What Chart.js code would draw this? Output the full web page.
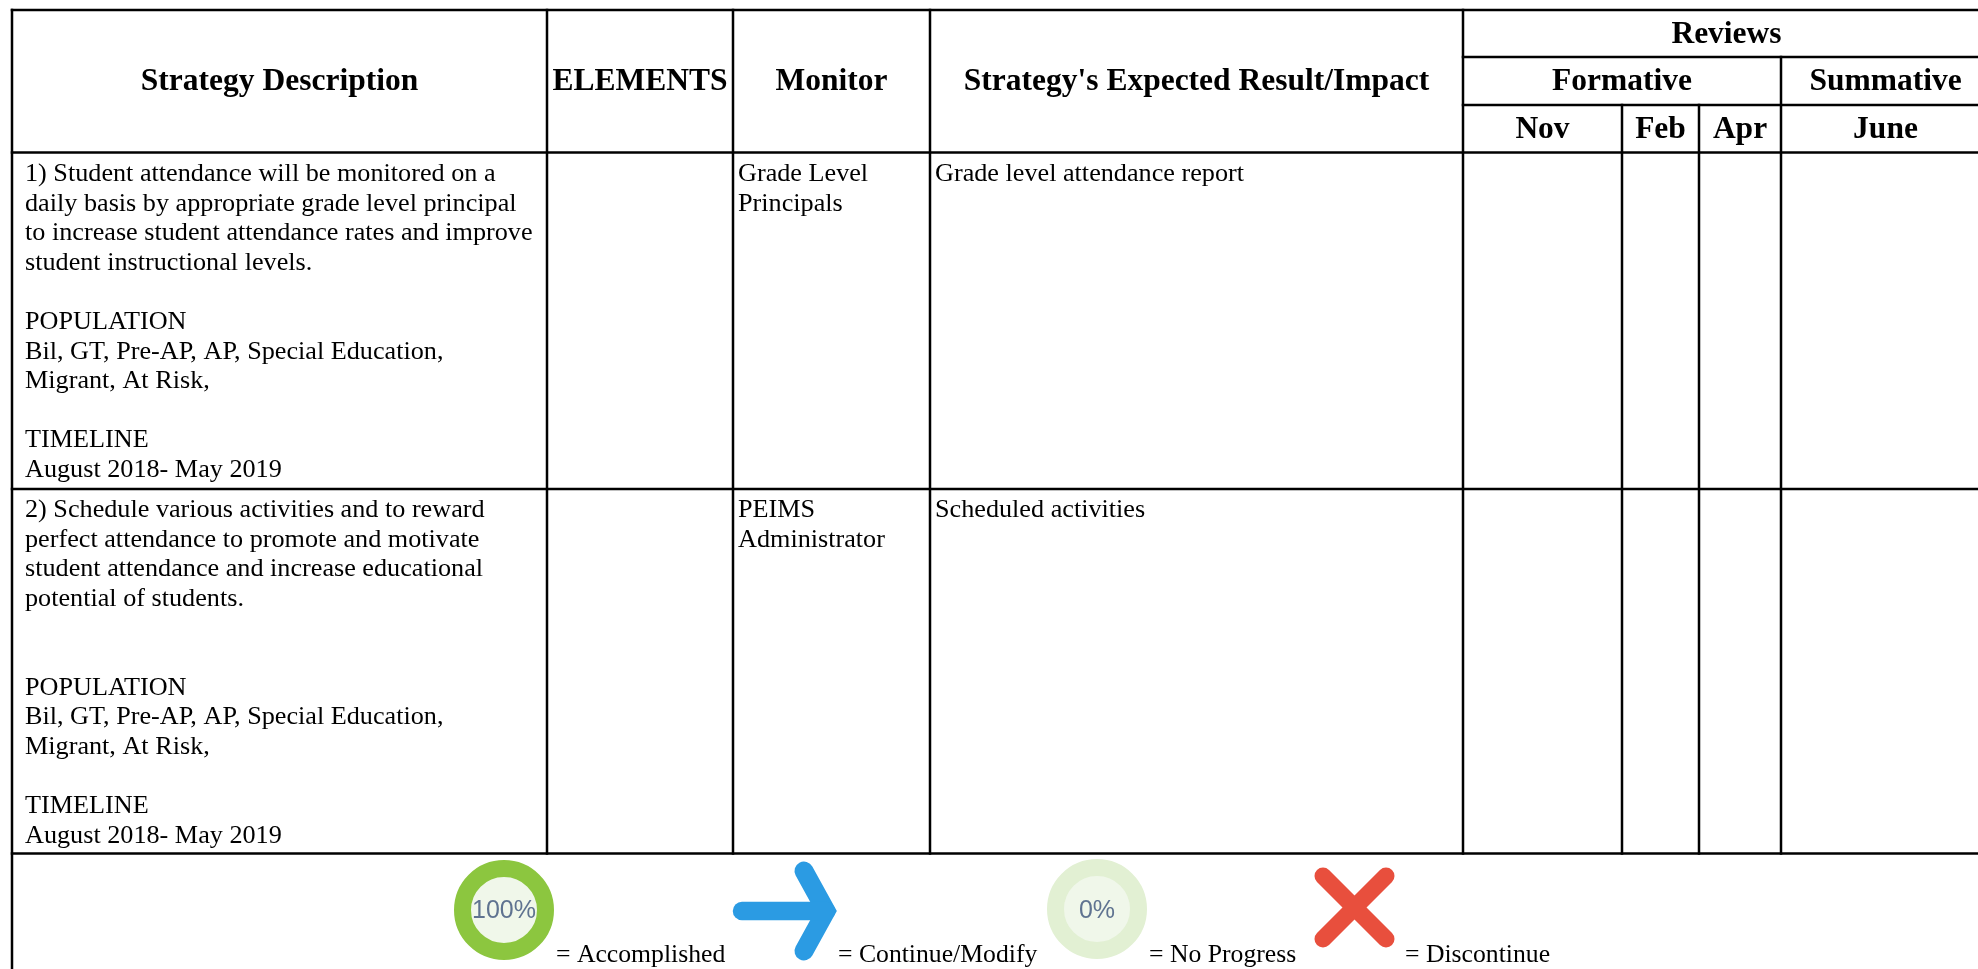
<!DOCTYPE html>
<html lang="en">

<head>
    <meta charset="UTF-8">
    <title>Strategy table</title>
    <style>
        html, body { margin: 0; padding: 0; background: #fff; overflow: hidden; }
        canvas { display: block; }
    </style>
</head>

<body>
    <canvas id="myChart" width="1978" height="969"></canvas>
    <script src="https://cdn.jsdelivr.net/npm/chart.js@4"></script>
    <script>
        // table geometry, in axis units
        const colEdges = [12, 547, 733, 930, 1463, 1622, 1699, 1781, 1990];
        const rowEdges = [10, 57, 105, 152.5, 489, 853.5, 975];

        // header labels
        const headMain = ['Strategy Description', 'ELEMENTS', 'Monitor', "Strategy's Expected Result/Impact"];
        const headTop = 'Reviews';
        const headMid = ['Formative', 'Summative'];
        const headMonths = ['Nov', 'Feb', 'Apr', 'June'];

        // body cells, one entry per text line
        const row1Desc = ['1) Student attendance will be monitored on a', 'daily basis by appropriate grade level principal',
            'to increase student attendance rates and improve', 'student instructional levels.', '', 'POPULATION',
            'Bil, GT, Pre-AP, AP, Special Education,', 'Migrant, At Risk,', '', 'TIMELINE', 'August 2018- May 2019'];
        const row1Monitor = ['Grade Level', 'Principals'];
        const row1Impact = ['Grade level attendance report'];
        const row2Desc = ['2) Schedule various activities and to reward', 'perfect attendance to promote and motivate',
            'student attendance and increase educational', 'potential of students.', '', '', 'POPULATION',
            'Bil, GT, Pre-AP, AP, Special Education,', 'Migrant, At Risk,', '', 'TIMELINE', 'August 2018- May 2019'];
        const row2Monitor = ['PEIMS', 'Administrator'];
        const row2Impact = ['Scheduled activities'];

        // key under the table
        const keyLabels = ['= Accomplished', '= Continue/Modify', '= No Progress', '= Discontinue'];
        const keyLabelX = [556, 838, 1149, 1405];
        const ringLabels = ['100%', '0%'];
        const ringX = [504, 1097];
        const ringY = [910, 909];
        const arrowShaftX = [742, 826];
        const arrowShaftY = [911, 911];
        const arrowHeadX = [804, 826, 804];
        const arrowHeadY = [871, 911, 951];
        const crossX = [[1323, 1386], [1386, 1323]];
        const crossY = [[876, 939], [876, 939]];

        const C = colEdges, R = rowEdges;
        // [x1, y1, x2, y2] for each ruled line
        const rules = [
            [C[0], R[0], C[8], R[0]], [C[4], R[1], C[8], R[1]], [C[4], R[2], C[8], R[2]],
            [C[0], R[3], C[8], R[3]], [C[0], R[4], C[8], R[4]], [C[0], R[5], C[8], R[5]],
            [C[0], R[0], C[0], R[6]], [C[1], R[0], C[1], R[5]], [C[2], R[0], C[2], R[5]],
            [C[3], R[0], C[3], R[5]], [C[4], R[0], C[4], R[5]], [C[5], R[2], C[5], R[5]],
            [C[6], R[2], C[6], R[5]], [C[7], R[1], C[7], R[5]]
        ];

        const stroke = (xs, ys, color, width, join) => ({
            data: xs.map((x, i) => ({ x: x, y: ys[i] })),
            showLine: true,
            borderColor: color,
            borderWidth: width,
            borderCapStyle: 'round',
            borderJoinStyle: join || 'round',
            pointRadius: 0
        });

        const ring = (i, rim) => ({
            data: [{ x: ringX[i], y: ringY[i] }],
            showLine: false,
            pointStyle: 'circle',
            pointRadius: 41.5,
            pointBorderWidth: 17,
            pointBorderColor: rim,
            pointBackgroundColor: '#f0f7ea'
        });

        const datasets = rules.map(r => ({
            data: [{ x: r[0], y: r[1] }, { x: r[2], y: r[3] }],
            showLine: true,
            borderColor: '#000',
            borderWidth: 2.5,
            borderCapStyle: 'square',
            pointRadius: 0
        }));
        datasets.push(ring(0, '#8cc63f'));
        datasets.push(ring(1, '#e2f0d3'));
        datasets.push(stroke(arrowShaftX, arrowShaftY, '#2b9be3', 18.5));
        datasets.push(stroke(arrowHeadX, arrowHeadY, '#2b9be3', 19, 'miter'));
        datasets.push(stroke(crossX[0], crossY[0], '#e84f3d', 17));
        datasets.push(stroke(crossX[1], crossY[1], '#e84f3d', 17));

        const tableText = {
            id: 'tableText',
            afterDatasetsDraw(chart) {
                const c = chart.ctx, sx = chart.scales.x, sy = chart.scales.y;
                const put = (text, x, y, font, align, color) => {
                    c.font = font;
                    c.textAlign = align || 'left';
                    c.textBaseline = 'alphabetic';
                    c.fillStyle = color || '#000';
                    c.fillText(text, sx.getPixelForValue(x), sy.getPixelForValue(y));
                };
                const mid = (a, b) => (colEdges[a] + colEdges[b]) / 2;
                const bold = 'bold 31.5px "Liberation Serif"';
                const body = '26.2px "Liberation Serif"';
                const key = '25.7px "Liberation Serif"';

                headMain.forEach((t, i) => put(t, mid(i, i + 1), 90, bold, 'center'));
                put(headTop, mid(4, 8), 43, bold, 'center');
                put(headMid[0], mid(4, 7), 90, bold, 'center');
                put(headMid[1], mid(7, 8), 90, bold, 'center');
                headMonths.forEach((t, i) => put(t, mid(4 + i, 5 + i), 137.5, bold, 'center'));

                const cell = (lines, x, first) => lines.forEach((t, i) => {
                    if (t) put(t, x, first + i * 29.6, body);
                });
                cell(row1Desc, 25, 181);
                cell(row1Monitor, 738, 181);
                cell(row1Impact, 935, 181);
                cell(row2Desc, 25, 517);
                cell(row2Monitor, 738, 517);
                cell(row2Impact, 935, 517);

                keyLabels.forEach((t, i) => put(t, keyLabelX[i], 962, key));
                ringLabels.forEach((t, i) => put(t, ringX[i], 918, '25px "Liberation Sans"', 'center', '#5f7390'));
            }
        };

        new Chart(document.getElementById('myChart').getContext('2d'), {
            type: 'scatter',
            data: { datasets: datasets },
            options: {
                responsive: false,
                animation: false,
                layout: { padding: 0, autoPadding: false },
                plugins: { legend: { display: false }, tooltip: { enabled: false } },
                scales: {
                    x: { type: 'linear', display: false, min: 0, max: 1978 },
                    y: { type: 'linear', display: false, min: 0, max: 969, reverse: true }
                }
            },
            plugins: [tableText]
        });
    </script>
</body>

</html>
